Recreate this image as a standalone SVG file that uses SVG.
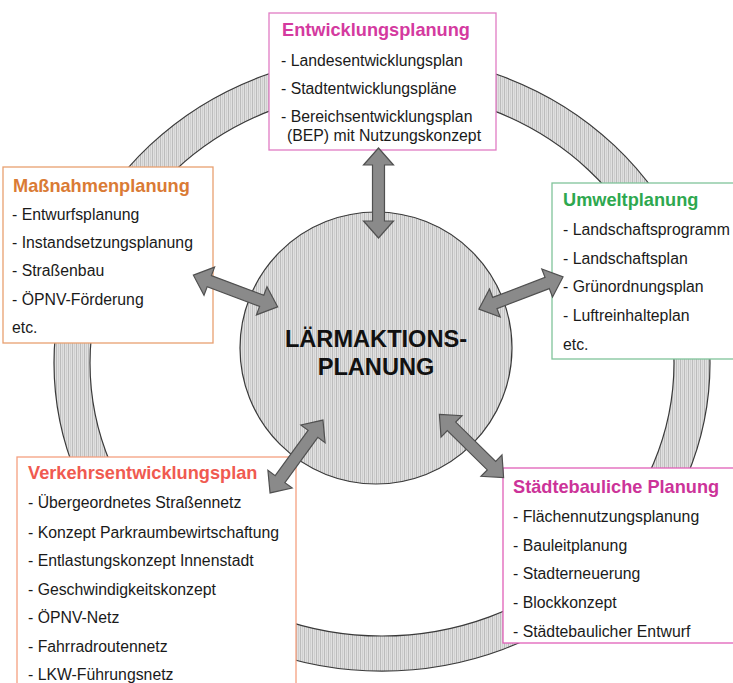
<svg xmlns="http://www.w3.org/2000/svg" width="733" height="683" viewBox="0 0 733 683">
<style>
.t{font-family:"Liberation Sans",Arial,sans-serif;font-weight:bold;font-size:18.2px}
.i{font-family:"Liberation Sans",Arial,sans-serif;font-size:15.8px;fill:#1a1a1a}
.box{fill:#ffffff;stroke-width:1.3}
.hatch{fill:url(#vstripe);stroke:#3a3a3a;stroke-width:1.2}
.arr{fill:#8a8a8a;stroke:#505050;stroke-width:1.2;stroke-linejoin:miter}
.main{font-family:"Liberation Sans",Arial,sans-serif;font-weight:bold;font-size:23.6px;fill:#111;text-anchor:middle}
</style>
<defs>
<pattern id="vstripe" patternUnits="userSpaceOnUse" width="4" height="4">
<rect width="4" height="4" fill="#e0e0e0"/>
<rect x="0" width="1" height="4" fill="#bcbcbc"/>
<rect x="2" width="1" height="4" fill="#cfcfcf"/>
</pattern>
<path id="darr" d="M-45,0 L-28,-15 L-28,-6 L28,-6 L28,-15 L45,0 L28,15 L28,6 L-28,6 L-28,15 Z"/>
</defs>
<rect width="733" height="683" fill="#ffffff"/>
<path class="hatch" fill-rule="evenodd" d="M54,363 a328,308 0 1,0 656,0 a328,308 0 1,0 -656,0 Z M90,363 a292,273 0 1,0 584,0 a292,273 0 1,0 -584,0 Z"/>
<g id="center">
<circle class="hatch" cx="376" cy="348" r="136"/>
<text class="main" x="376" y="347">LÄRMAKTIONS-</text>
<text class="main" x="376" y="375">PLANUNG</text>
</g>
<g id="entwicklung">
<rect class="box" x="269" y="13" width="227" height="137" stroke="#e07cc4"/>
<text class="t" x="282" y="36" fill="#d43a9f">Entwicklungsplanung</text>
<text class="i" x="281" y="66">- Landesentwicklungsplan</text>
<text class="i" x="281" y="94">- Stadtentwicklungspläne</text>
<text class="i" x="281" y="122">- Bereichsentwicklungsplan</text>
<text class="i" x="287" y="141">(BEP) mit Nutzungskonzept</text>
</g>
<g id="massnahmen">
<rect class="box" x="3" y="167" width="210" height="176" stroke="#e8a070"/>
<text class="t" x="13" y="192" fill="#da7b35">Maßnahmenplanung</text>
<text class="i" x="12" y="220">- Entwurfsplanung</text>
<text class="i" x="12" y="248">- Instandsetzungsplanung</text>
<text class="i" x="12" y="276">- Straßenbau</text>
<text class="i" x="12" y="305">- ÖPNV-Förderung</text>
<text class="i" x="12" y="333">etc.</text>
</g>
<g id="umwelt">
<rect class="box" x="552" y="183" width="200" height="176" stroke="#80c49a"/>
<text class="t" x="563" y="206" fill="#2ea84f">Umweltplanung</text>
<text class="i" x="563" y="235">- Landschaftsprogramm</text>
<text class="i" x="563" y="264">- Landschaftsplan</text>
<text class="i" x="563" y="292">- Grünordnungsplan</text>
<text class="i" x="563" y="321">- Luftreinhalteplan</text>
<text class="i" x="563" y="350">etc.</text>
</g>
<g id="verkehr">
<rect class="box" x="17" y="457" width="279" height="240" stroke="#f5a080"/>
<text class="t" x="28" y="479" fill="#f05a50">Verkehrsentwicklungsplan</text>
<text class="i" x="28" y="508">- Übergeordnetes Straßennetz</text>
<text class="i" x="28" y="538">- Konzept Parkraumbewirtschaftung</text>
<text class="i" x="28" y="566">- Entlastungskonzept Innenstadt</text>
<text class="i" x="28" y="595">- Geschwindigkeitskonzept</text>
<text class="i" x="28" y="623">- ÖPNV-Netz</text>
<text class="i" x="28" y="652">- Fahrradroutennetz</text>
<text class="i" x="28" y="680">- LKW-Führungsnetz</text>
</g>
<g id="staedtebau">
<rect class="box" x="503" y="468" width="250" height="175" stroke="#e060b8"/>
<text class="t" x="513" y="493" fill="#cc3399">Städtebauliche Planung</text>
<text class="i" x="513" y="522">- Flächennutzungsplanung</text>
<text class="i" x="513" y="551">- Bauleitplanung</text>
<text class="i" x="513" y="579">- Stadterneuerung</text>
<text class="i" x="513" y="608">- Blockkonzept</text>
<text class="i" x="513" y="637">- Städtebaulicher Entwurf</text>
</g>
<g id="connectors">
<use href="#darr" class="arr" transform="translate(378.5,193) rotate(90)"/>
<use href="#darr" class="arr" transform="translate(235.5,291) rotate(20.6)"/>
<use href="#darr" class="arr" transform="translate(521,293) rotate(-20.9)"/>
<use href="#darr" class="arr" transform="translate(296.5,456.5) rotate(-54)"/>
<use href="#darr" class="arr" transform="translate(471.5,446) rotate(44.5)"/>
</g>
</svg>
